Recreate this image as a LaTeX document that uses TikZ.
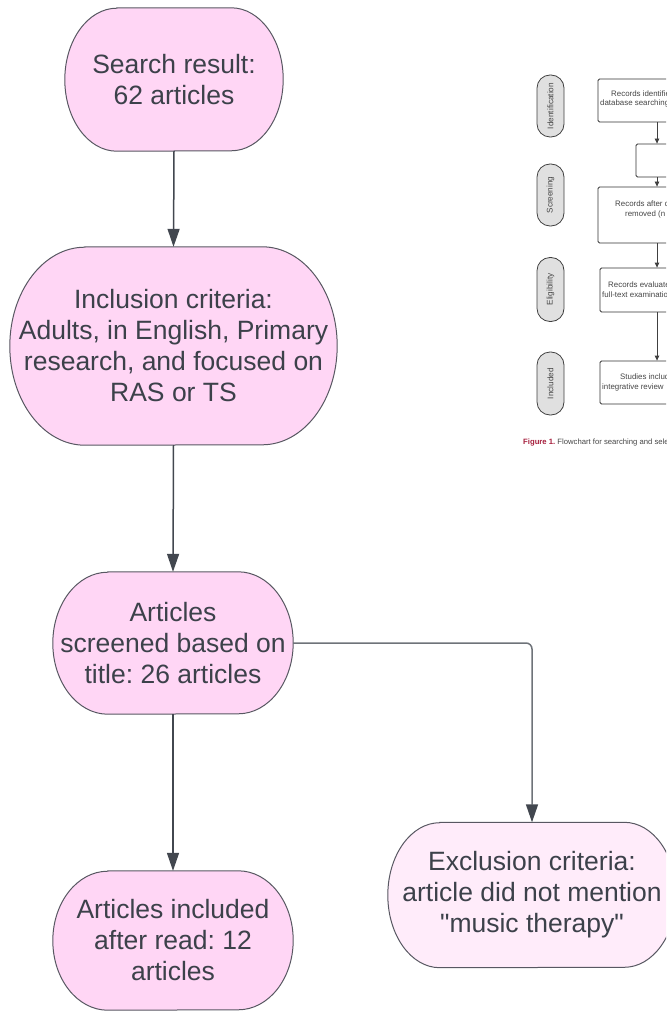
\documentclass[tikz,border=0pt]{standalone}
\usepackage{fontspec}
\setmainfont{Liberation Sans}[Ligatures=TeXOff]
\usetikzlibrary{arrows.meta}
\pgfdeclarelayer{background}
\pgfsetlayers{background,main}
\frenchspacing
\definecolor{pinkfill}{RGB}{255,214,245}
\definecolor{pinklight}{RGB}{255,236,250}
\definecolor{pillline}{RGB}{88,88,98}
\definecolor{txt}{RGB}{60,65,74}
\definecolor{arrowc}{RGB}{66,71,79}
\definecolor{connc}{RGB}{110,115,121}
\definecolor{lanefill}{RGB}{224,224,224}
\definecolor{figred}{RGB}{165,30,60}
\definecolor{figtxt}{RGB}{70,70,70}
\newcommand{\pillshape}[4]{%
  \begin{pgfonlayer}{background}
  \path[#1] ([xshift=#3]#2.north west) -- ([xshift=-#3]#2.north east)
    arc[start angle=90,end angle=-90,x radius=#3,y radius=#4]
    -- ([xshift=#3]#2.south west)
    arc[start angle=270,end angle=90,x radius=#3,y radius=#4] -- cycle;
  \end{pgfonlayer}}
\tikzset{
  mainnode/.style={font=\fontsize{26.5}{31}\selectfont, text=txt, align=center, inner sep=0pt},
  pillA/.style={draw=pillline, fill=pinkfill, line width=1pt},
  pillB/.style={draw=pillline, fill=pinklight, line width=1pt},
  arr/.style={draw=arrowc, line width=1.5pt, -{Triangle[length=18pt,width=12pt,color=arrowc]}},
  conn/.style={draw=connc, line width=1.5pt, rounded corners=6pt, -{Triangle[length=18pt,width=12pt,color=arrowc]}},
  lane/.style={draw=black!75, fill=lanefill, rounded corners=13pt, rotate=90, minimum height=27pt,
    inner sep=0pt, line width=0.8pt, font=\fontsize{8.2}{9}\selectfont, text=figtxt},
  ebox/.style={draw=black!80, fill=white, rounded corners=1.5pt, line width=0.8pt, inner sep=0pt},
  etext/.style={font=\fontsize{7.9}{9}\selectfont, text=figtxt, inner sep=0pt, anchor=west},
  earrow/.style={draw=black!75, line width=0.8pt, -{Triangle[length=5pt,width=4.5pt]}}
}
\begin{document}
\begin{tikzpicture}[x=1pt,y=-1pt]
\useasboundingbox (0,0) rectangle (666,1011);
\clip (0,0) rectangle (666,1011);
\begin{pgfonlayer}{background}
\clip (0,0) rectangle (666,1011);
\end{pgfonlayer}
% main flow
\node[mainnode, minimum width=218pt, minimum height=143pt] (n1) at (174,79.5) {Search result:\\62 articles};
\node[mainnode, minimum width=327pt, minimum height=198pt] (n2) at (173.5,346) {Inclusion criteria:\\Adults, in English, Primary\\research, and focused on\\RAS or TS};
\node[mainnode, minimum width=240pt, minimum height=142pt] (n3) at (173,643) {Articles\\screened based on\\title: 26 articles};
\node[mainnode, minimum width=240pt, minimum height=139pt] (n4) at (173,940.5) {Articles included\\after read: 12\\articles};
\node[mainnode, minimum width=288pt, minimum height=145pt] (n5) at (532,895) {Exclusion criteria:\\article did not mention\\"music therapy"};
\pillshape{pillA}{n1}{52pt}{71.5pt}
\pillshape{pillA}{n2}{75pt}{99pt}
\pillshape{pillA}{n3}{55pt}{71pt}
\pillshape{pillA}{n4}{55pt}{69.5pt}
\pillshape{pillB}{n5}{52pt}{72.5pt}
\draw[arr] (n1.south) -- (n2.north);
\draw[arr] (n2.south) -- (n3.north);
\draw[arr] (n3.south) -- (n4.north);
\draw[conn] (n3.east) -| (n5.north);
% embedded figure
\node[lane, minimum width=62pt] (l1) at (550.5,106) {Identification};
\node[lane, minimum width=62pt] (l2) at (550.5,195) {Screening};
\node[lane, minimum width=64pt] (l3) at (550.5,289.5) {Eligibility};
\node[lane, minimum width=63pt] (l4) at (550.5,383.5) {Included};
\node[ebox, minimum width=118pt, minimum height=43pt] (b1) at (657,100.5) {};
\node[ebox, minimum width=42pt, minimum height=33pt] (b2) at (657,160.5) {};
\node[ebox, minimum width=118pt, minimum height=56pt] (b3) at (657,215) {};
\node[ebox, minimum width=114pt, minimum height=44pt] (b4) at (657,290) {};
\node[ebox, minimum width=114pt, minimum height=43pt] (b5) at (657,382.5) {};
\draw[earrow] (b1.south) -- (b2.north);
\draw[earrow] (b2.south) -- (b3.north);
\draw[earrow] (b3.south) -- (b4.north);
\draw[earrow] (b4.south) -- (b5.north);
\node[etext] (t1a) at (611,94) {Records identified through};
\node[etext] (t1b) at (600,103.5) {database searching};
\node[etext] (t3a) at (615,204) {Records after duplicates};
\node[etext] (t3b) at (625,214) {removed (n =};
\node[etext] (t4a) at (608,285) {Records evaluated by};
\node[etext] (t4b) at (602,295) {full-text examination};
\node[etext] (t5a) at (620,377) {Studies included in};
\node[etext] (t5b) at (602,387) {integrative review};
\node[etext, font=\fontsize{7.7}{9}\selectfont] (cap) at (523,443) {\textcolor{figred}{\bfseries Figure 1.} Flowchart for searching and selecting};
\end{tikzpicture}
\end{document}
